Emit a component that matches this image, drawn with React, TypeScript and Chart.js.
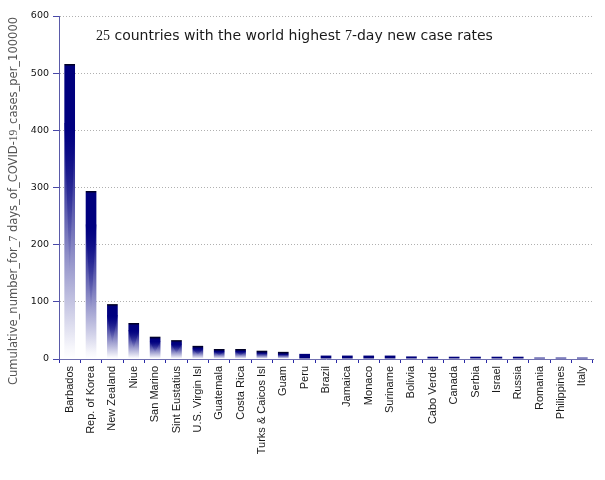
import React, { useEffect, useRef } from 'react';
import { Chart, registerables } from 'chart.js';
Chart.register(...registerables);

const categories = [
  'Barbados', 'Rep. of Korea', 'New Zealand', 'Niue', 'San Marino', 'Sint Eustatius',
  'U.S. Virgin Isl', 'Guatemala', 'Costa Rica', 'Turks & Caicos Isl', 'Guam', 'Peru',
  'Brazil', 'Jamaica', 'Monaco', 'Suriname', 'Bolivia', 'Cabo Verde', 'Canada',
  'Serbia', 'Israel', 'Russia', 'Romania', 'Philippines', 'Italy',
];
const values = [
  516, 294, 96, 63, 39, 33, 23, 17.5, 17.5, 14.5, 12.5, 9,
  6, 6, 6, 6, 4.5, 4, 4, 4, 4, 4, 2.5, 2.5, 2.5,
];
const yMin = 0;
const yMax = 600;
const yStep = 100;
// [text, usesSerifDigits]
const titleParts: [string, boolean][] = [
  ['25', true], [' countries with the world highest ', false], ['7', true], ['-day new case rates', false],
];
const yTitleParts: [string, boolean][] = [
  ['Cumulative_number_for_', false], ['7', true], [' days_of_COVID-', false], ['19', true], ['_cases_per_100000', false],
];

const SANS = '"DejaVu Sans", sans-serif';
const SERIF = '"Liberation Serif", serif';

const textPlugin = {
  id: 'mixedTexts',
  afterDraw(chart: any) {
    const ctx = chart.ctx as CanvasRenderingContext2D;
    ctx.save();
    ctx.textBaseline = 'alphabetic';
    ctx.textAlign = 'left';
    // chart title (inside plot area)
    ctx.fillStyle = '#1a1a1a';
    let x = 96;
    for (const [t, serif] of titleParts) {
      ctx.font = serif ? `14px ${SERIF}` : `14px ${SANS}`;
      ctx.fillText(t, x, 40);
      x += ctx.measureText(t).width;
    }
    // y axis title
    ctx.fillStyle = '#555555';
    const yFont = (serif: boolean) => (serif ? `11.5px ${SERIF}` : `11.5px ${SANS}`);
    let total = 0;
    for (const [t, serif] of yTitleParts) {
      ctx.font = yFont(serif);
      total += ctx.measureText(t).width;
    }
    ctx.translate(17, 201);
    ctx.rotate(-Math.PI / 2);
    let tx = -total / 2;
    for (const [t, serif] of yTitleParts) {
      ctx.font = yFont(serif);
      ctx.fillText(t, tx, 0);
      tx += ctx.measureText(t).width;
    }
    ctx.restore();
  },
};

const wedgePlugin = {
  id: 'wedge',
  afterDatasetsDraw(chart: any) {
    const ctx = chart.ctx as CanvasRenderingContext2D;
    const meta = chart.getDatasetMeta(0);
    ctx.save();
    meta.data.forEach((el: any) => {
      const { x, y, base, width } = el.getProps(['x', 'y', 'base', 'width'], true);
      const h = base - y;
      if (h < 8) return;
      const y0 = y + h * 0.2;
      const y1 = y + h * 0.72;
      const g = ctx.createLinearGradient(0, y0, 0, y1);
      g.addColorStop(0, 'rgba(0,0,128,0.7)');
      g.addColorStop(1, 'rgba(0,0,128,0)');
      ctx.fillStyle = g;
      ctx.beginPath();
      ctx.moveTo(x - width / 2, y0);
      ctx.lineTo(x + width / 2, y0);
      ctx.lineTo(x, y1);
      ctx.closePath();
      ctx.fill();
    });
    ctx.restore();
  },
};

export default function App() {
  const ref = useRef<HTMLCanvasElement>(null);
  useEffect(() => {
    if (!ref.current) return;
    const chart = new Chart(ref.current, {
      type: 'bar',
      data: {
        labels: categories,
        datasets: [
          {
            data: values,
            categoryPercentage: 1,
            barPercentage: 0.5,
            borderWidth: 0,
            backgroundColor: (c: any) => {
              const ch = c.chart;
              if (!ch.chartArea || c.type !== 'data') return '#000080';
              const top = ch.scales.y.getPixelForValue(c.raw);
              const bottom = ch.scales.y.getPixelForValue(0);
              const h = Math.max(bottom - top, 1);
              if (h < 6) return '#00007a';
              const g = ch.ctx.createLinearGradient(0, top, 0, bottom);
              const s1 = Math.min(0.5, 2.5 / h);
              const s2 = Math.max(s1, 0.22);
              g.addColorStop(0, '#000010');
              g.addColorStop(s1, '#00007c');
              g.addColorStop(s2, '#000080');
              g.addColorStop(Math.max(s2, 0.96), '#f6f6fb');
              g.addColorStop(1, '#ffffff');
              return g;
            },
          },
        ],
      },
      options: {
        responsive: false,
        animation: false,
        devicePixelRatio: 1,
        layout: { padding: { top: 16, right: 12, left: 0, bottom: 0 } },
        plugins: { legend: { display: false }, tooltip: { enabled: false }, title: { display: false } },
        scales: {
          x: {
            afterFit: (s: any) => { s.height = 121; },
            grid: {
              display: true,
              offset: true,
              drawOnChartArea: false,
              drawTicks: true,
              tickLength: 4,
              tickColor: '#2a2aa8',
              tickWidth: 1,
            },
            border: { display: true, color: '#7070b0', width: 1 },
            ticks: {
              autoSkip: false,
              minRotation: 90,
              maxRotation: 90,
              padding: 3,
              color: '#1a1a1a',
              font: { family: '"Liberation Sans", Arial, sans-serif', size: 11 },
            },
          },
          y: {
            min: yMin,
            max: yMax,
            afterFit: (s: any) => { s.width = 59; },
            grid: {
              color: '#b0b0b0',
              lineWidth: 1,
              drawTicks: true,
              tickLength: 6,
              tickColor: '#4848a8',
              tickBorderDash: [],
            },
            border: { display: true, color: '#5a5aa8', width: 1, dash: [1, 2] },
            ticks: {
              stepSize: yStep,
              padding: 4,
              color: '#111111',
              font: { family: SANS, size: 9.5 },
            },
          },
        },
      },
      plugins: [wedgePlugin, textPlugin],
    });
    return () => chart.destroy();
  }, []);
  return (
    <div style={{ position: 'fixed', left: 0, top: 0, width: 605, height: 480, background: '#fff' }}>
      <canvas ref={ref} width={605} height={480} style={{ display: 'block' }} />
    </div>
  );
}
